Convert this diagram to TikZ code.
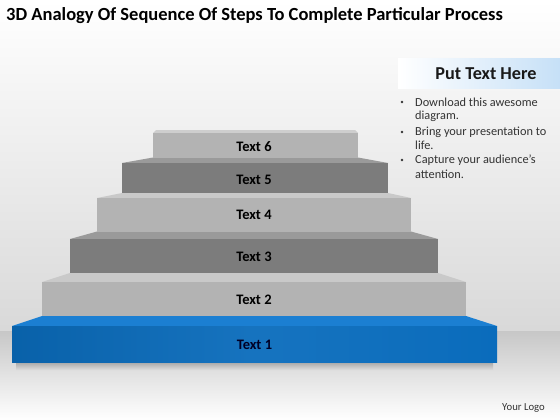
\documentclass[tikz,border=0pt]{standalone}
\usepackage{fontspec}
\setmainfont{Carlito}
\usetikzlibrary{shadings}
\definecolor{lightA}{HTML}{B3B3B3}
\definecolor{lightTop}{HTML}{C9C9C9}
\definecolor{darkA}{HTML}{7C7C7C}
\definecolor{darkTop}{HTML}{9A9A9A}
\definecolor{blueA}{HTML}{0A6CBC}
\definecolor{blueTop}{HTML}{1B7FD2}
\definecolor{txtgray}{HTML}{333333}
\definecolor{boxblue}{HTML}{C6E0F7}
\tikzset{
  steplabel/.style={font=\bfseries\fontsize{14.5}{16}\selectfont, text=black},
  bullettext/.style={font=\fontsize{12.3}{14}\selectfont, text=txtgray, anchor=west, inner sep=0pt},
}
\begin{document}
\begin{tikzpicture}[x=1pt,y=-1pt]
\useasboundingbox (0,0) rectangle (560,420);
% background wall and floor
\shade[top color=white, bottom color=black!15] (0,0) rectangle (560,331);
\shade[top color=black!22, bottom color=white] (0,331) rectangle (560,420);
% shadow under blue step
\shade[top color=black!35, bottom color=black!13, draw=none] (16,362) rectangle (493,370);

% Step 1 (blue)
\fill[blueTop] (12,326) -- (42,316) -- (466,316) -- (497,326) -- cycle;
\shade[left color=blueA!90!black, right color=blueA, middle color=blueA!95!white] (12,326) rectangle (497,362);
\node[steplabel, text=black!85!blue] (s1) at (254.5,345) {Text 1};

% Step 2
\fill[lightTop] (42,282) -- (70,273) -- (438,273) -- (466,282) -- cycle;
\fill[lightA] (42,282) rectangle (466,316);
\node[steplabel] (s2) at (254,299.5) {Text 2};

% Step 3
\fill[darkTop] (70,239) -- (97,231.5) -- (411,231.5) -- (438,239) -- cycle;
\fill[darkA] (70,239) rectangle (438,273);
\node[steplabel] (s3) at (254,257) {Text 3};

% Step 4
\fill[lightTop] (97,198) -- (122,193) -- (388,193) -- (411,198) -- cycle;
\fill[lightA] (97,198) rectangle (411,231.5);
\node[steplabel] (s4) at (254,215) {Text 4};

% Step 5
\fill[darkTop] (122,163) -- (153,157.5) -- (358,157.5) -- (388,163) -- cycle;
\fill[darkA] (122,163) rectangle (388,193);
\node[steplabel] (s5) at (254,179.5) {Text 5};

% Step 6
\fill[lightTop!90!white] (153,133) -- (156,130) -- (355,130) -- (358,133) -- cycle;
\fill[lightA] (153,133) rectangle (358,157.5);
\node[steplabel] (s6) at (254,147) {Text 6};

% Title
\node[anchor=west, font=\bfseries\fontsize{18.5}{21}\selectfont, inner sep=0pt] (title) at (6,16) {3D Analogy Of Sequence Of Steps To Complete Particular Process};

% Put Text Here box
\shade[left color=white, right color=boxblue] (398,59) rectangle (560,89);
\node[font=\bfseries\fontsize{18.2}{20}\selectfont, text=black!90] (head) at (486,74) {Put Text Here};

% bullets
\foreach \yy in {102,132,160} { \fill[txtgray] (402,\yy) circle (1.4); }
\node[bullettext] (b1) at (415,102) {Download this awesome};
\node[bullettext] (b1b) at (415,116) {diagram.};
\node[bullettext] (b2) at (415,132) {Bring your presentation to};
\node[bullettext] (b2b) at (415,145) {life.};
\node[bullettext] (b3) at (415,160) {Capture your audience’s};
\node[bullettext] (b3b) at (415,174) {attention.};

% logo
\node[anchor=east, font=\fontsize{10.7}{12}\selectfont, text=txtgray, inner sep=0pt] (logo) at (545,408) {Your Logo};
\end{tikzpicture}
\end{document}
